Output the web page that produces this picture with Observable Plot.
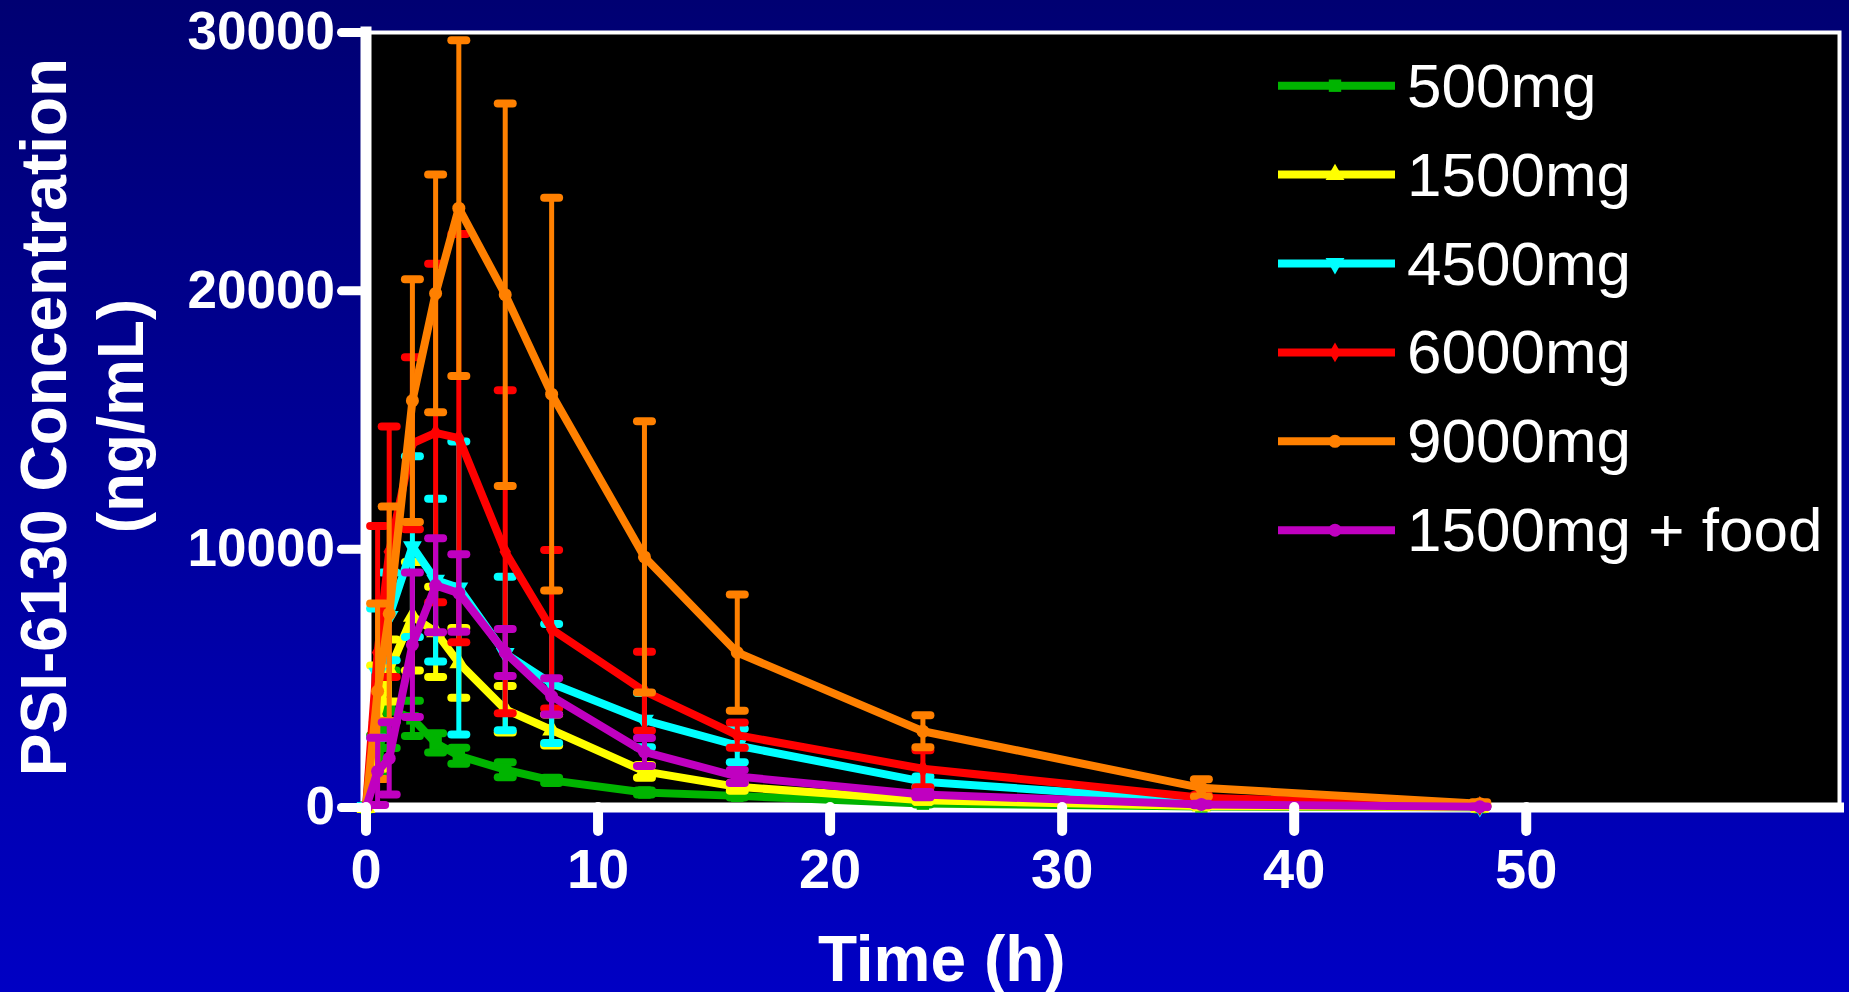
<!DOCTYPE html>
<html>
<head>
<meta charset="utf-8">
<script src="https://cdn.jsdelivr.net/npm/d3@7"></script>
<script src="https://cdn.jsdelivr.net/npm/@observablehq/plot@0.6"></script>
<style>
html, body { margin: 0; padding: 0; width: 1849px; height: 992px; overflow: hidden;
  background: linear-gradient(to bottom, #000072, #0000C4); }
#chart svg { display: block; }
</style>
</head>
<body>
<div id="chart"></div>
<script>
// ---- data ----
const times = [0, 0.5, 1, 2, 3, 4, 6, 8, 12, 16, 24, 36, 48];

const seriesNames = ["500mg", "1500mg", "4500mg", "6000mg", "9000mg", "1500mg + food"];
const seriesColors = ["#00B400", "#FFFF00", "#00FFFF", "#FF0000", "#FF8000", "#C000C0"];
const seriesSymbols = ["square", "triangle", "triangle", "diamond", "circle", "circle"];
const seriesRotate = [0, 0, 180, 0, 0, 0];
const seriesR = [7, 7, 7, 6, 6.5, 6.5];

const mean500  = [0, 2000, 3800, 3450, 2500, 2000, 1460, 1050, 580, 450, 150, 40, 10];
const sd500    = [0, 800, 1500, 680, 370, 310, 290, 100, 80, 60, 30, 10, 0];

const mean1500 = [0, 3500, 5300, 7400, 6800, 5600, 3800, 3000, 1400, 800, 280, 60, 10];
const sd1500   = [0, 2000, 1200, 2100, 1750, 1350, 900, 600, 250, 150, 60, 20, 0];

const mean4500 = [0, 5200, 7400, 10100, 8800, 8500, 5960, 4800, 3380, 2400, 1000, 250, 30];
const sd4500   = [0, 2500, 1700, 3500, 3150, 5670, 2970, 2300, 1050, 650, 200, 60, 10];

const mean6000 = [0, 6000, 9900, 14100, 14500, 14300, 9900, 6900, 4500, 2800, 1500, 380, 50];
const sd6000   = [0, 4900, 4850, 3330, 6550, 7900, 6250, 3070, 1530, 490, 720, 100, 20];

const mean9000 = [0, 4500, 7500, 15750, 19900, 23200, 19850, 16000, 9700, 6000, 2950, 760, 150];
const sd9000   = [0, 3400, 4150, 4700, 4600, 6500, 7400, 7600, 5250, 2250, 620, 330, 50];

const mean1500food = [0, 1400, 1900, 6300, 8600, 8300, 6000, 4300, 2150, 1200, 500, 120, 30];
const sd1500food   = [0, 1300, 1400, 2800, 1820, 1500, 910, 700, 540, 250, 100, 30, 10];

const xTicks = [0, 10, 20, 30, 40, 50];
const yTicks = [0, 10000, 20000, 30000];
const xDomain = [0, 63.5];
const yDomain = [0, 30000];
const xTitle = "Time (h)";
const yTitle1 = "PSI-6130 Concentration";
const yTitle2 = "(ng/mL)";

// ---- build table ----
const means = [mean500, mean1500, mean4500, mean6000, mean9000, mean1500food];
const sds = [sd500, sd1500, sd4500, sd6000, sd9000, sd1500food];
const rows = [];
seriesNames.forEach((name, i) => times.forEach((t, j) =>
  rows.push({series: name, i, time: t, mean: means[i][j], sd: sds[i][j]})));

const FONT = "'Liberation Sans', Arial, Helvetica, sans-serif";

// horizontal cap symbol for error bars
const capSymbol = {
  draw(ctx, size) {
    const w = Math.sqrt(size / Math.PI);
    ctx.moveTo(-w, 0);
    ctx.lineTo(w, 0);
  }
};

const dataMarks = [];
seriesNames.forEach((name, i) => {
  const d = rows.filter(r => r.i === i);
  const e = d.filter(r => r.sd > 0);
  const color = seriesColors[i];
  dataMarks.push(
    Plot.ruleX(e, {x: "time", y1: r => r.mean - r.sd, y2: r => r.mean + r.sd,
      stroke: color, strokeWidth: 5}),
    Plot.dot(e, {x: "time", y: r => r.mean + r.sd, symbol: capSymbol, r: 7.5,
      fill: "none", stroke: color, strokeWidth: 8, strokeLinecap: "round"}),
    Plot.dot(e, {x: "time", y: r => r.mean - r.sd, symbol: capSymbol, r: 7.5,
      fill: "none", stroke: color, strokeWidth: 8, strokeLinecap: "round"}),
    Plot.line(d, {x: "time", y: "mean", stroke: color, strokeWidth: 8,
      strokeLinejoin: "round", strokeLinecap: "round"}),
    Plot.dot(d, {x: "time", y: "mean", symbol: seriesSymbols[i], r: seriesR[i],
      fill: color, stroke: "none", rotate: seriesRotate[i]})
  );
});

const allMarks = [
  Plot.frame({fill: "black", stroke: "white", strokeWidth: 4}),
  Plot.ruleX([0], {stroke: "white", strokeWidth: 11, strokeLinecap: "square"}),
  Plot.ruleY([0], {stroke: "white", strokeWidth: 10, strokeLinecap: "square"}),
  ...dataMarks,
  Plot.axisY(yTicks, {tickSize: 24, tickPadding: 7, strokeWidth: 9, strokeLinecap: "round",
    color: "white", fontSize: 53, fontWeight: "bold", fontFamily: FONT, label: null,
    tickFormat: d => String(d)}),
  Plot.axisX(xTicks, {tickSize: 24, tickPadding: 17, strokeWidth: 10, strokeLinecap: "round",
    color: "white", fontSize: 56, fontWeight: "bold", fontFamily: FONT, label: null,
    tickFormat: d => String(d)}),
  Plot.text([xTitle], {text: d => d, frameAnchor: "bottom", lineAnchor: "bottom", textAnchor: "middle",
    dx: -161, dy: 173, fill: "white", fontSize: 64, fontWeight: "bold", fontFamily: FONT}),
  Plot.text([yTitle1], {text: d => d, frameAnchor: "left", lineAnchor: "bottom", textAnchor: "middle",
    rotate: -90, dx: -300, dy: -3, fill: "white", fontSize: 64, fontWeight: "bold", fontFamily: FONT}),
  Plot.text([yTitle2], {text: d => d, frameAnchor: "left", lineAnchor: "bottom", textAnchor: "middle",
    rotate: -90, dx: -223, dy: -4, fill: "white", fontSize: 64, fontWeight: "bold", fontFamily: FONT})
];

const chart = Plot.plot({
  width: 1849,
  height: 992,
  marginLeft: 365.5,
  marginRight: 10,
  marginTop: 32,
  marginBottom: 185,
  x: {domain: xDomain, axis: null},
  y: {domain: yDomain, axis: null},
  style: {background: "transparent", overflow: "visible", fontFamily: FONT},
  marks: allMarks
});

document.getElementById("chart").appendChild(chart);

// legend inside the plot frame
const svg = d3.select(chart);
const lg = svg.append("g").attr("font-family", FONT).attr("text-anchor", "start");
const symMap = {square: d3.symbolSquare, triangle: d3.symbolTriangle, diamond: d3.symbolDiamond, circle: d3.symbolCircle};
seriesNames.forEach((name, i) => {
  const cy = 85.7 + 88.9 * i;
  lg.append("line").attr("x1", 1278).attr("x2", 1395).attr("y1", cy).attr("y2", cy)
    .attr("stroke", seriesColors[i]).attr("stroke-width", 8);
  const r = seriesR[i];
  lg.append("path")
    .attr("d", d3.symbol(symMap[seriesSymbols[i]], Math.PI * r * r)())
    .attr("transform", `translate(1335,${cy}) rotate(${seriesRotate[i]})`)
    .attr("fill", seriesColors[i]);
  lg.append("text").attr("x", 1407).attr("y", cy + 21).attr("text-anchor", "start")
    .attr("fill", "white").attr("font-size", 62).text(name);
});
</script>
</body>
</html>
